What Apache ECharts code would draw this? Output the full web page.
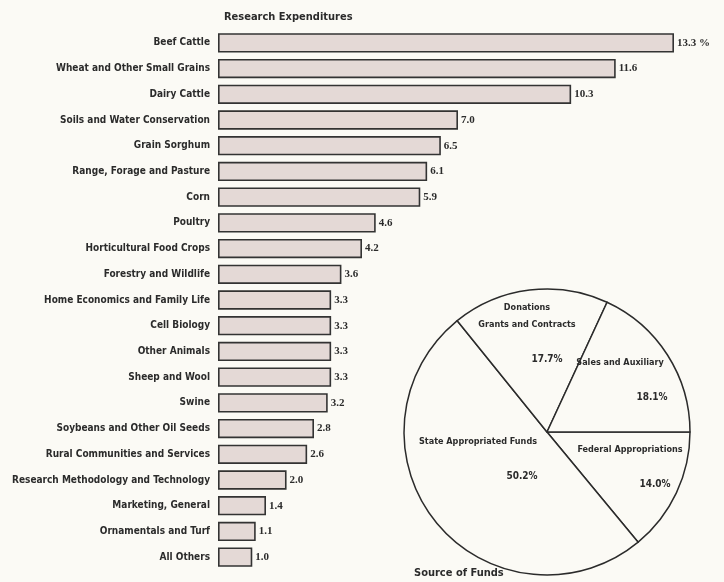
<!DOCTYPE html>
<html>
<head>
<meta charset="utf-8">
<script src="https://cdn.jsdelivr.net/npm/echarts@6/dist/echarts.min.js"></script>
<style>
  html,body{margin:0;padding:0;background:#fbfaf5}
  #main{width:724px;height:582px}
</style>
</head>
<body>
<div id="main"></div>
<script>
// research expenditures, percent of total
var categories = ["Beef Cattle","Wheat and Other Small Grains","Dairy Cattle","Soils and Water Conservation",
  "Grain Sorghum","Range, Forage and Pasture","Corn","Poultry","Horticultural Food Crops",
  "Forestry and Wildlife","Home Economics and Family Life","Cell Biology","Other Animals",
  "Sheep and Wool","Swine","Soybeans and Other Oil Seeds","Rural Communities and Services",
  "Research Methodology and Technology","Marketing, General","Ornamentals and Turf","All Others"]
var expenditures = [13.3,11.6,10.3,7.0,6.5,6.1,5.9,4.6,4.2,3.6,3.3,3.3,3.3,3.3,3.2,2.8,2.6,2.0,1.4,1.1,1.0]

// source of funds, percent
var fundNames = ["Federal Appropriations","State Appropriated Funds","Donations\nGrants and Contracts","Sales and Auxiliary"]
var fundValues = [14.0,50.2,17.7,18.1]

// where each pie label block sits (x = centre, y = top) and how far the % is nudged right
var pieLabelPos = [[630,441],[478,433],[527,299],[620,354]]
var pieValueShift = [50,88,40,64]

var font = "DejaVu Sans Condensed"
var ink = "#2b2b2b"

var chart = echarts.init(document.getElementById("main"))

var pieData = fundNames.map(function(n,i){
  var lines = n.split("\n").map(function(s){return "{n|"+s+"}"}).join("\n")
  return {
    name:n,
    value:fundValues[i],
    label:{
      formatter: lines+"\n{g|}\n{v|"+fundValues[i].toFixed(1)+"%}",
      rich:{
        n:{fontFamily:font,fontSize:9,fontWeight:"bold",color:ink,lineHeight:17},
        g:{lineHeight:18},
        v:{fontFamily:font,fontSize:10,fontWeight:"bold",color:ink,lineHeight:17,padding:[0,0,0,pieValueShift[i]]}
      }
    }
  }
})

chart.setOption({
  backgroundColor:"#fbfaf5",
  animation:false,
  title:[
    {text:"Research Expenditures",left:219,top:7,
      textStyle:{fontFamily:font,fontSize:11,fontWeight:"bold",color:ink}},
    {text:"Source of Funds",left:409,top:563,
      textStyle:{fontFamily:font,fontSize:11,fontWeight:"bold",color:ink}}
  ],
  grid:{left:218,right:26,top:30,bottom:12},
  xAxis:{type:"value",min:0,max:14,show:false},
  yAxis:{
    type:"category",
    data:categories,
    inverse:true,
    axisLine:{show:false},
    axisTick:{show:false},
    axisLabel:{fontFamily:font,fontSize:10,fontWeight:"bold",color:ink,margin:8}
  },
  series:[
    {
      type:"bar",
      data:expenditures,
      barCategoryGap:"25%",
      itemStyle:{color:"#e4d9d6",borderColor:"#333",borderWidth:1.6},
      label:{
        show:true,
        position:"right",
        distance:3,
        fontFamily:"Liberation Serif",
        fontSize:11,
        fontWeight:"bold",
        color:ink,
        formatter:function(p){
          return p.dataIndex===0 ? p.value.toFixed(1)+" %" : p.value.toFixed(1)
        }
      }
    },
    {
      type:"pie",
      center:[547,432],
      radius:143,
      startAngle:0,
      clockwise:true,
      data:pieData,
      itemStyle:{color:"#fbfaf5",borderColor:"#2b2b2b",borderWidth:1.5},
      label:{show:true,position:"inside"},
      labelLine:{show:false},
      labelLayout:function(p){
        var pos = pieLabelPos[p.dataIndex]
        return {x:pos[0],y:pos[1],align:"center",verticalAlign:"top"}
      },
      emphasis:{disabled:true}
    }
  ]
})
</script>
</body>
</html>
